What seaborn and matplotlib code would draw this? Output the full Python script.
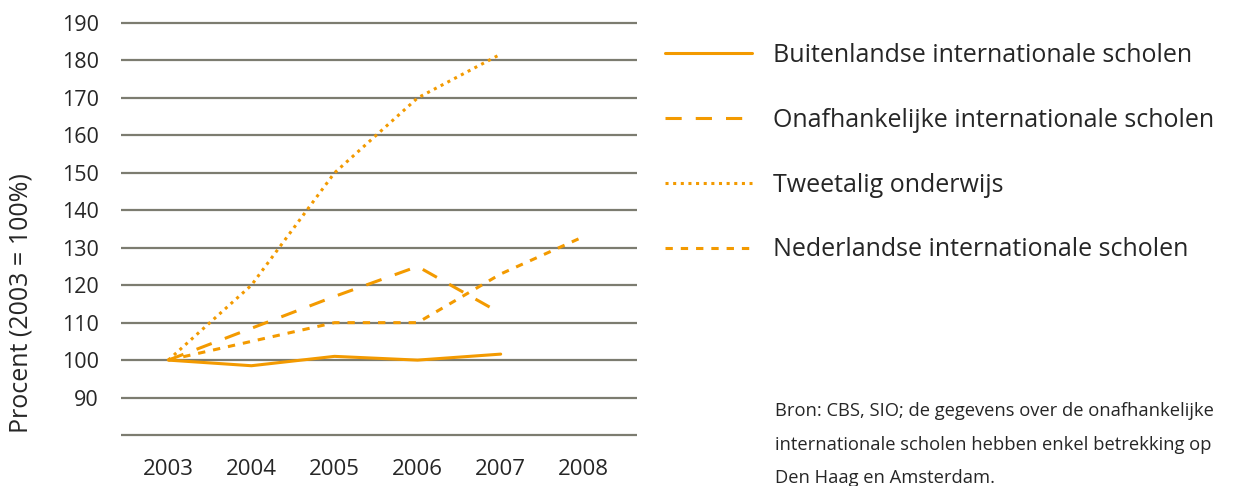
import matplotlib
matplotlib.use("Agg")
import matplotlib.pyplot as plt
import seaborn as sns
import pandas as pd

# data (index 2003 = 100)
years = [2003, 2004, 2005, 2006, 2007, 2008]
buitenlandse = [100, 98.5, 101, 100, 101.6, None]
onafhankelijk = [100, 108.5, 117, 125, 112.5, None]
tweetalig = [100, 120, 150, 170, 181.7, None]
nederlandse = [100, 105, 110, 110, 123, 133]

series_names = [
    "Buitenlandse internationale scholen",
    "Onafhankelijke internationale scholen",
    "Tweetalig onderwijs",
    "Nederlandse internationale scholen",
]
y_ticks = [90, 100, 110, 120, 130, 140, 150, 160, 170, 180, 190]
note = ("Bron: CBS, SIO; de gegevens over de onafhankelijke\n"
        "internationale scholen hebben enkel betrekking op\n"
        "Den Haag en Amsterdam.")


def build_frame():
    """Long-format frame for seaborn."""
    rows = []
    for name, vals in zip(series_names, [buitenlandse, onafhankelijk, tweetalig, nederlandse]):
        for yr, v in zip(years, vals):
            if v is not None:
                rows.append({"year": yr, "value": v, "series": name})
    return pd.DataFrame(rows)


sns.set_theme(style="white")
plt.rcParams['font.family'] = ['Open Sans', 'DejaVu Sans']

orange = "#f39a00"
grid_col = "#7c7c70"

fig = plt.figure(figsize=(12.38, 4.86), dpi=100)
ax = fig.add_axes([0.0977, 0.0895, 0.4168, 0.8785])

df = build_frame()
dash_map = {
    series_names[0]: "",
    series_names[1]: (5.3, 4.6),
    series_names[2]: (1, 1.5),
    series_names[3]: (2.4, 2.6),
}
sns.lineplot(
    data=df, x="year", y="value",
    hue="series", style="series",
    hue_order=series_names, style_order=series_names,
    palette=[orange] * 4, dashes=dash_map,
    linewidth=2.2, ax=ax, legend=True,
)

ax.set_xlim(2002.43, 2008.64)
ax.set_ylim(78, 192)

# horizontal rules instead of axis grid (80 has a rule but no label)
for yv in [80] + y_ticks:
    ax.axhline(yv, color=grid_col, lw=1.6, zorder=0)

ax.set_yticks(y_ticks)
ax.set_yticklabels([str(t) for t in y_ticks], fontsize=15.5)
ax.set_xticks(years)
ax.set_xticklabels([str(y) for y in years], fontsize=16)
ax.tick_params(axis="y", length=0, pad=16)
ax.tick_params(axis="x", length=0, pad=12)
ax.set_xlabel("")
ax.set_ylabel("Procent (2003 = 100%)", fontsize=18, va="center")
ax.yaxis.set_label_coords(-0.193, 0.327)
sns.despine(ax=ax, left=True, bottom=True)

# legend on the right side of the figure
handles, labels = ax.get_legend_handles_labels()
ax.legend(
    handles, labels,
    loc="upper left", bbox_to_anchor=(1.054, 0.9356),
    frameon=False, fontsize=18,
    borderpad=0, borderaxespad=0,
    handlelength=3.48, handletextpad=0.84, labelspacing=1.59,
)

fig.text(775 / 1238, 1 - 402 / 486, note, fontsize=13.2, va="top", ha="left",
         linespacing=2.12)

fig.savefig("out.png", dpi=100)
